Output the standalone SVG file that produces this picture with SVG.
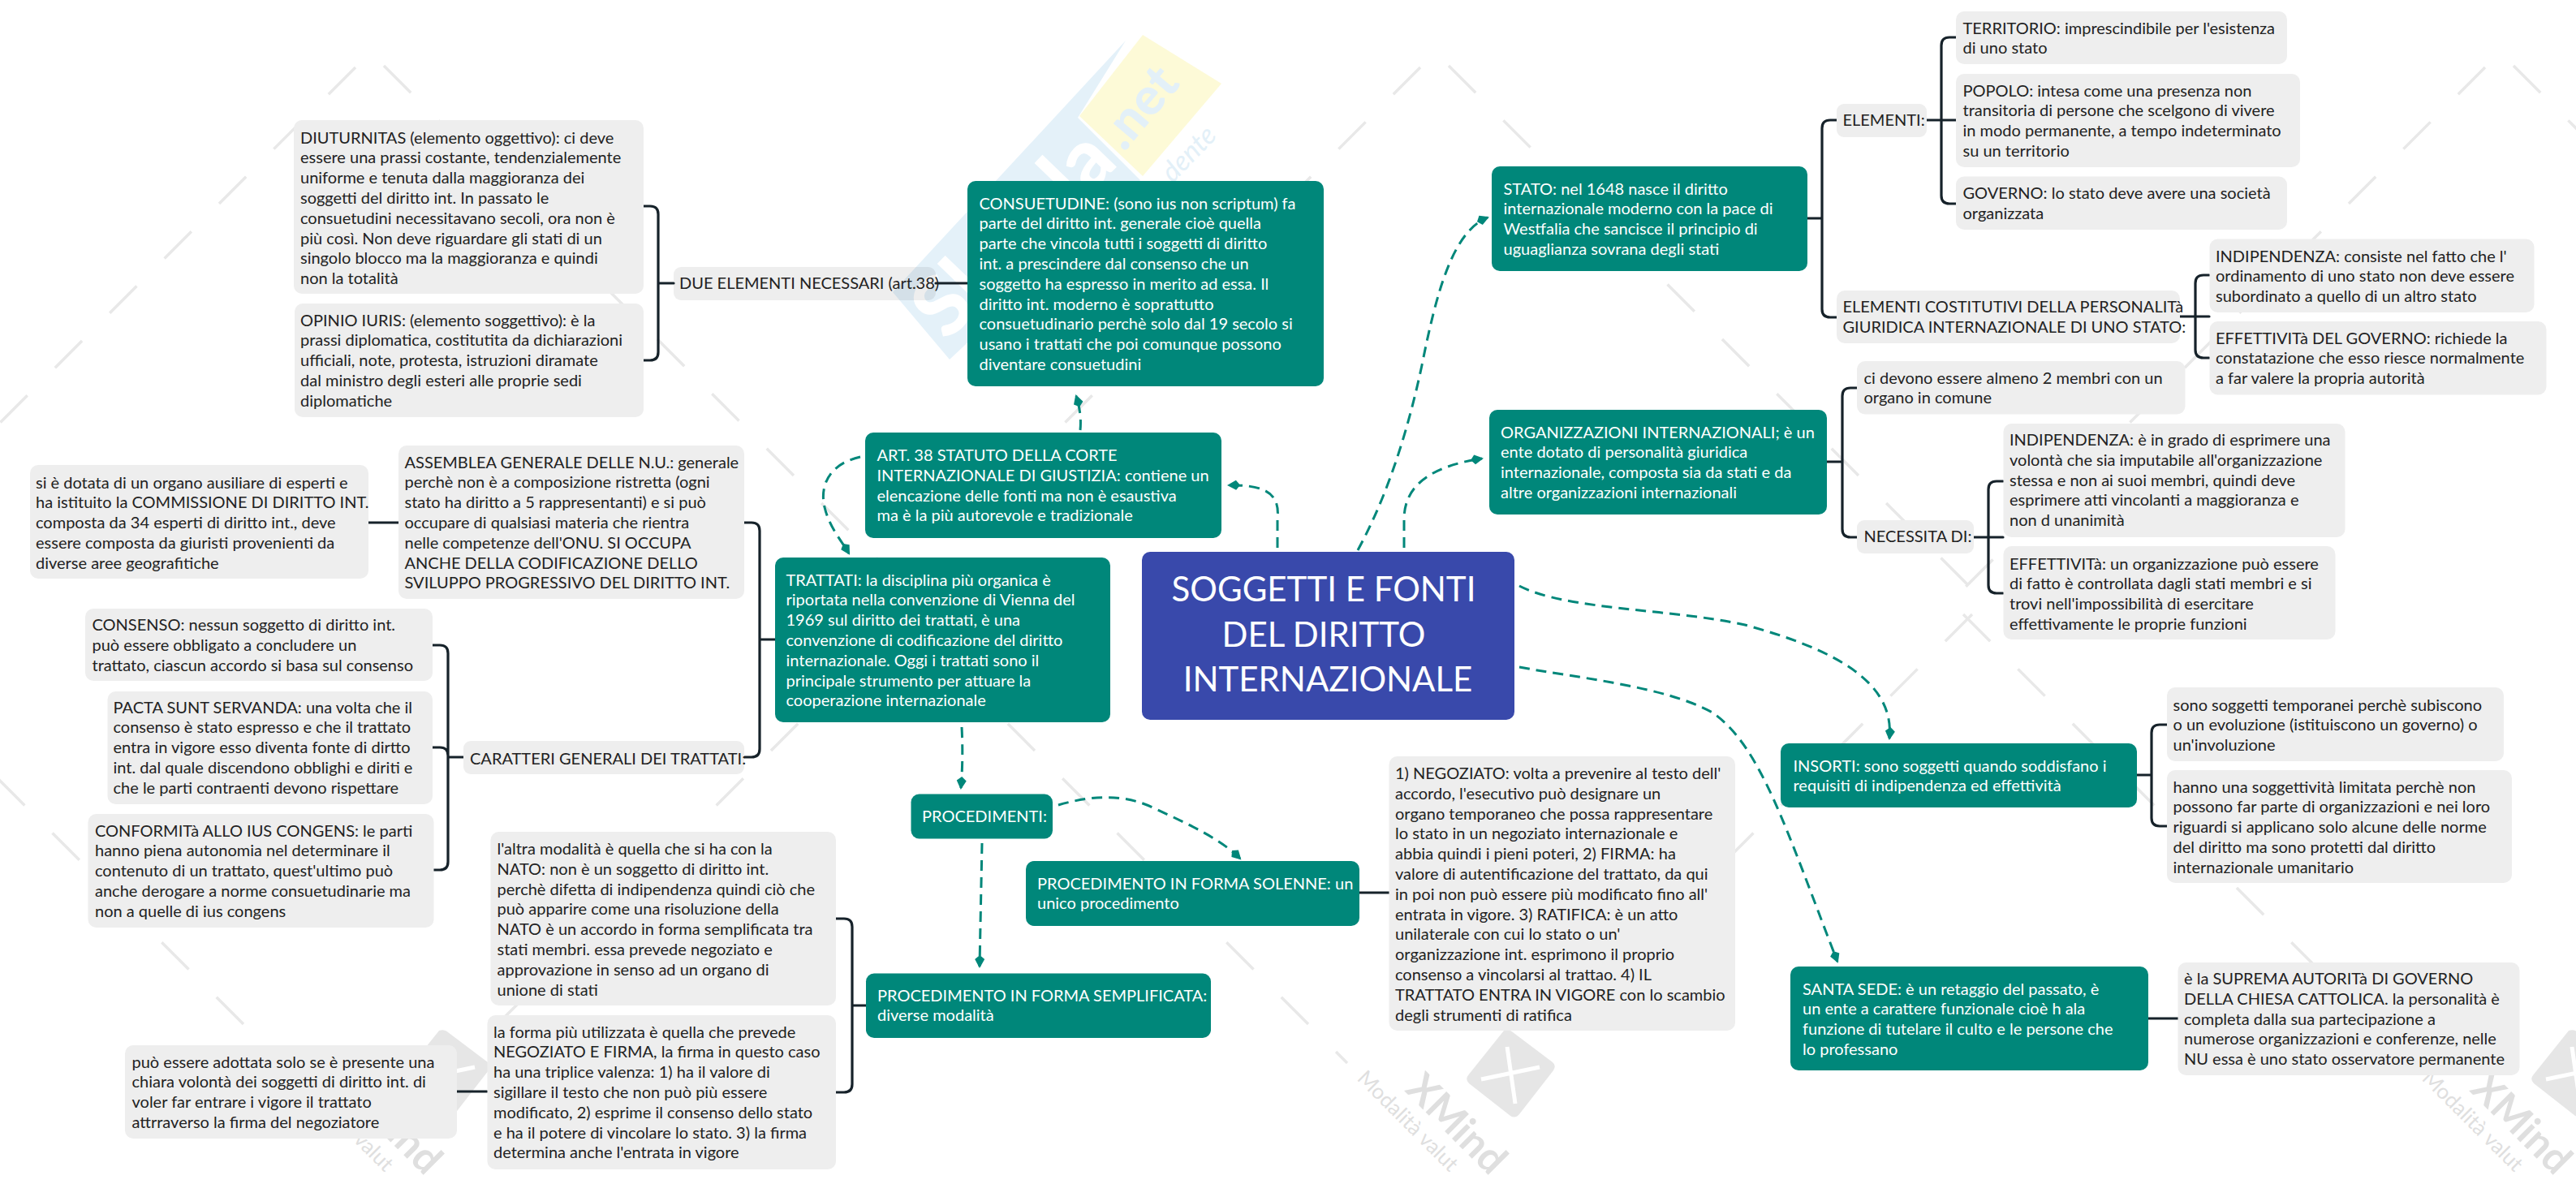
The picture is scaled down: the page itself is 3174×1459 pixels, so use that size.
<svg xmlns="http://www.w3.org/2000/svg" xmlns:xlink="http://www.w3.org/1999/xlink" width="3174" height="1459" viewBox="0 0 3174 1459">
<style>
text{font-family:"Lato","Liberation Sans",sans-serif;font-size:20px}
.t{fill:#222}
.w{fill:#fff}
.g{fill:#eee}
.k{fill:#00877a}
.c{fill:#3949ab}
.d{fill:none;stroke:#00877a;stroke-width:3;stroke-dasharray:13 8;marker-end:url(#ah)}
.s{fill:none;stroke:#16222a;stroke-width:3.2;stroke-linecap:round}
.wm{fill:none;stroke:#e8e8e8;stroke-width:3.5;stroke-dasharray:47 48.3}
.ti{font-size:42px;text-anchor:middle}
</style>
<defs>
<marker id="ah" markerUnits="userSpaceOnUse" markerWidth="20" markerHeight="16" refX="14" refY="8" orient="auto" viewBox="0 0 20 16"><path d="M0 8L5 2L16 8L5 14Z" fill="#00877a"/></marker>
<g id="tile">
<path class="wm" d="M473 81L1113 721"/>
<path class="wm" d="M438 83L-202 723"/>
<path class="wm" d="M-205 757L348 1310"/>
<path class="wm" d="M1118 757L560 1315"/>
<path d="M541 1270Q548 1268 552 1272L601 1309Q606 1313 602 1319L560 1373Q555 1379 549 1375L498 1335Q493 1330 497 1325Z" fill="#e6e6e6"/>
<path d="M545 1290L555 1360M513 1330L585 1315" stroke="#fff" stroke-width="5" fill="none"/>
<text x="418" y="1344" transform="rotate(45 418 1344)" style="font-size:50px;font-weight:700;fill:#dfdfdf">XMind</text>
<text x="359" y="1330" transform="rotate(45 359 1330)" style="font-size:26px;fill:#dfdfdf">Modalità valut</text>
</g>
</defs>
<rect width="3174" height="1459" fill="#fff"/>
<g id="watermark">
<use xlink:href="#tile" href="#tile"/>
<use xlink:href="#tile" href="#tile" x="1312"/>
<use xlink:href="#tile" href="#tile" x="2624"/>
</g>
<g id="skuola">
<path d="M1100 360L1387 50L1328 145L1405 222L1170 443Z" fill="#0a7cc4" fill-opacity=".11"/>
<path d="M1408 43L1505 103L1408 217L1330 143Z" fill="#fbf6b0" fill-opacity=".5"/>
<text x="1167" y="422" transform="rotate(-46 1167 422)" style="font-size:102px;font-weight:900;fill:#fff">Skuola</text>
<text x="1385" y="188" transform="rotate(-50 1385 188)" style="font-size:64px;font-weight:900;fill:#e3f0f8">.net</text>
<text x="1445" y="226" transform="rotate(-46 1445 226)" style="font-size:34px;font-style:italic;fill:#e3f0f8">dente</text>
</g>
<g id="n-due"><rect fill="#000" fill-opacity=".067" x="830" y="329" width="323" height="41" rx="9"/><text class="t" x="837" y="356">DUE ELEMENTI NECESSARI (art.38)</text></g>
<g id="connectors">
<path class="s" d="M793 254h8q10 0 10 10V434q0 10-10 10h-8M811 349H830"/>
<path class="s" d="M1153 349H1192"/>
<path class="s" d="M2227 269H2245M2263 148h-8q-10 0-10 10V381q0 10 10 10h8"/>
<path class="s" d="M2374 148H2410M2410 46h-8q-10 0-10 10V241q0 10 10 10h8"/>
<path class="s" d="M2686 390H2722M2722 339h-7q-10 0-10 10V431q0 10 10 10h7"/>
<path class="s" d="M2251 569H2270M2288 478h-8q-10 0-10 10V652q0 10 10 10h8"/>
<path class="s" d="M2432 662H2468M2468 593h-8q-10 0-10 10V721q0 10 10 10h8"/>
<path class="s" d="M2633 955H2651M2670 893h-9q-10 0-10 10V1008q0 10 10 10h9"/>
<path class="s" d="M2647 1255H2684"/>
<path class="s" d="M1675 1100H1712"/>
<path class="s" d="M1067 1239H1050M1030 1132h10q10 0 10 10V1336q0 10-10 10h-10"/>
<path class="s" d="M563 1345H600"/>
<path class="s" d="M454 644H491"/>
<path class="s" d="M955 788H936M917 644h9q10 0 10 10V923q0 10-10 10h-9"/>
<path class="s" d="M571 933H552M533 795h9q10 0 10 10V1062q0 10-10 10h-9M533 921h9q10 0 10 10"/>
<path class="d" d="M1331 530Q1333 510 1326 488"/>
<path class="d" d="M1673 678C1710 610 1735 530 1752 450C1770 360 1790 285 1833 268"/>
<path class="d" d="M1730 675V640C1730 600 1760 575 1826 565"/>
<path class="d" d="M1574 675V640C1577 612 1565 597 1514 598"/>
<path class="d" d="M1060 563C1020 572 1010 600 1016 625C1022 650 1036 665 1046 682"/>
<path class="d" d="M1185 896Q1187 935 1184 971"/>
<path class="d" d="M1304 992C1345 980 1385 978 1420 995C1470 1018 1505 1035 1528 1058"/>
<path class="d" d="M1210 1039L1207 1191"/>
<path class="d" d="M1872 722C1930 752 2060 750 2150 770C2260 800 2335 840 2328 910"/>
<path class="d" d="M1872 822C1940 835 2050 845 2110 878C2170 920 2200 1020 2264 1185"/>
</g>
<g id="n-diut"><rect class="g" x="362" y="148" width="431" height="214" rx="10"/><text class="t" y="176.5"><tspan x="370">DIUTURNITAS (elemento oggettivo): ci deve</tspan><tspan x="370" dy="24.8">essere una prassi costante, tendenzialemente</tspan><tspan x="370" dy="24.8">uniforme e tenuta dalla maggioranza dei</tspan><tspan x="370" dy="24.8">soggetti del diritto int. In passato le</tspan><tspan x="370" dy="24.8">consuetudini necessitavano secoli, ora non è</tspan><tspan x="370" dy="24.8">più così. Non deve riguardare gli stati di un</tspan><tspan x="370" dy="24.8">singolo blocco ma la maggioranza e quindi</tspan><tspan x="370" dy="24.8">non la totalità</tspan></text></g>
<g id="n-opinio"><rect class="g" x="363" y="374" width="430" height="140" rx="10"/><text class="t" y="401.5"><tspan x="370">OPINIO IURIS: (elemento soggettivo): è la</tspan><tspan x="370" dy="24.8">prassi diplomatica, costitutita da dichiarazioni</tspan><tspan x="370" dy="24.8">ufficiali, note, protesta, istruzioni diramate</tspan><tspan x="370" dy="24.8">dal ministro degli esteri alle proprie sedi</tspan><tspan x="370" dy="24.8">diplomatiche</tspan></text></g>
<g id="n-consuet"><rect class="k" x="1192" y="223" width="439" height="253" rx="10"/><text class="w" y="257.5"><tspan x="1206.5">CONSUETUDINE: (sono ius non scriptum) fa</tspan><tspan x="1206.5" dy="24.8">parte del diritto int. generale cioè quella</tspan><tspan x="1206.5" dy="24.8">parte che vincola tutti i soggetti di diritto</tspan><tspan x="1206.5" dy="24.8">int. a prescindere dal consenso che un</tspan><tspan x="1206.5" dy="24.8">soggetto ha espresso in merito ad essa. Il</tspan><tspan x="1206.5" dy="24.8">diritto int. moderno è soprattutto</tspan><tspan x="1206.5" dy="24.8">consuetudinario perchè solo dal 19 secolo si</tspan><tspan x="1206.5" dy="24.8">usano i trattati che poi comunque possono</tspan><tspan x="1206.5" dy="24.8">diventare consuetudini</tspan></text></g>
<g id="n-stato"><rect class="k" x="1838" y="205" width="389" height="129" rx="10"/><text class="w" y="239.5"><tspan x="1852.5">STATO: nel 1648 nasce il diritto</tspan><tspan x="1852.5" dy="24.8">internazionale moderno con la pace di</tspan><tspan x="1852.5" dy="24.8">Westfalia che sancisce il principio di</tspan><tspan x="1852.5" dy="24.8">uguaglianza sovrana degli stati</tspan></text></g>
<g id="n-terr"><rect class="g" x="2410" y="14" width="408" height="65" rx="10"/><text class="t" y="41.5"><tspan x="2418.5">TERRITORIO: imprescindibile per l'esistenza</tspan><tspan x="2418.5" dy="24.8">di uno stato</tspan></text></g>
<g id="n-pop"><rect class="g" x="2410" y="91" width="424" height="115" rx="10"/><text class="t" y="118.5"><tspan x="2418.5">POPOLO: intesa come una presenza non</tspan><tspan x="2418.5" dy="24.8">transitoria di persone che scelgono di vivere</tspan><tspan x="2418.5" dy="24.8">in modo permanente, a tempo indeterminato</tspan><tspan x="2418.5" dy="24.8">su un territorio</tspan></text></g>
<g id="n-gov"><rect class="g" x="2410" y="217.5" width="408" height="65.5" rx="10"/><text class="t" y="245"><tspan x="2418.5">GOVERNO: lo stato deve avere una società</tspan><tspan x="2418.5" dy="24.8">organizzata</tspan></text></g>
<g id="n-elem"><rect class="g" x="2263" y="128" width="111" height="41" rx="9"/><text class="t" x="2270.5" y="154.5">ELEMENTI:</text></g>
<g id="n-elemc"><rect class="g" x="2263" y="358" width="423" height="65" rx="10"/><text class="t" y="385"><tspan x="2270.5">ELEMENTI COSTITUTIVI DELLA PERSONALITà</tspan><tspan x="2270.5" dy="24.8">GIURIDICA INTERNAZIONALE DI UNO STATO:</tspan></text></g>
<g id="n-indip"><rect class="g" x="2722.5" y="294.5" width="400" height="90.5" rx="10"/><text class="t" y="322.5"><tspan x="2730">INDIPENDENZA: consiste nel fatto che l'</tspan><tspan x="2730" dy="24.8">ordinamento di uno stato non deve essere</tspan><tspan x="2730" dy="24.8">subordinato a quello di un altro stato</tspan></text></g>
<g id="n-effg"><rect class="g" x="2722.5" y="396" width="415" height="90.5" rx="10"/><text class="t" y="423.5"><tspan x="2730">EFFETTIVITà DEL GOVERNO: richiede la</tspan><tspan x="2730" dy="24.8">constatazione che esso riesce normalmente</tspan><tspan x="2730" dy="24.8">a far valere la propria autorità</tspan></text></g>
<g id="n-org"><rect class="k" x="1835" y="505" width="416" height="129" rx="10"/><text class="w" y="539.5"><tspan x="1849">ORGANIZZAZIONI INTERNAZIONALI; è un</tspan><tspan x="1849" dy="24.8">ente dotato di personalità giuridica</tspan><tspan x="1849" dy="24.8">internazionale, composta sia da stati e da</tspan><tspan x="1849" dy="24.8">altre organizzazioni internazionali</tspan></text></g>
<g id="n-ci"><rect class="g" x="2288" y="445" width="404.5" height="65.5" rx="10"/><text class="t" y="472.5"><tspan x="2296.5">ci devono essere almeno 2 membri con un</tspan><tspan x="2296.5" dy="24.8">organo in comune</tspan></text></g>
<g id="n-nec"><rect class="g" x="2288" y="641" width="144" height="41" rx="9"/><text class="t" x="2296.5" y="668">NECESSITA DI:</text></g>
<g id="n-ind2"><rect class="g" x="2468.5" y="522" width="421" height="140" rx="10"/><text class="t" y="549"><tspan x="2476">INDIPENDENZA: è in grado di esprimere una</tspan><tspan x="2476" dy="24.8">volontà che sia imputabile all'organizzazione</tspan><tspan x="2476" dy="24.8">stessa e non ai suoi membri, quindi deve</tspan><tspan x="2476" dy="24.8">esprimere atti vincolanti a maggioranza e</tspan><tspan x="2476" dy="24.8">non d unanimità</tspan></text></g>
<g id="n-eff2"><rect class="g" x="2468.5" y="673" width="409" height="115" rx="10"/><text class="t" y="701.5"><tspan x="2476">EFFETTIVITà: un organizzazione può essere</tspan><tspan x="2476" dy="24.8">di fatto è controllata dagli stati membri e si</tspan><tspan x="2476" dy="24.8">trovi nell'impossibilità di esercitare</tspan><tspan x="2476" dy="24.8">effettivamente le proprie funzioni</tspan></text></g>
<g id="n-ins"><rect class="k" x="2194" y="916" width="439" height="79" rx="10"/><text class="w" y="950.5"><tspan x="2209.5">INSORTI: sono soggetti quando soddisfano i</tspan><tspan x="2209.5" dy="24.8">requisiti di indipendenza ed effettività</tspan></text></g>
<g id="n-sono"><rect class="g" x="2670" y="847" width="415" height="91" rx="10"/><text class="t" y="875.5"><tspan x="2677.5">sono soggetti temporanei perchè subiscono</tspan><tspan x="2677.5" dy="24.8">o un evoluzione (istituiscono un governo) o</tspan><tspan x="2677.5" dy="24.8">un'involuzione</tspan></text></g>
<g id="n-hanno"><rect class="g" x="2670" y="949" width="425" height="139" rx="10"/><text class="t" y="976.5"><tspan x="2677.5">hanno una soggettività limitata perchè non</tspan><tspan x="2677.5" dy="24.8">possono far parte di organizzazioni e nei loro</tspan><tspan x="2677.5" dy="24.8">riguardi si applicano solo alcune delle norme</tspan><tspan x="2677.5" dy="24.8">del diritto ma sono protetti dal diritto</tspan><tspan x="2677.5" dy="24.8">internazionale umanitario</tspan></text></g>
<g id="n-santa"><rect class="k" x="2206" y="1191" width="441" height="128" rx="10"/><text class="w" y="1225.5"><tspan x="2221">SANTA SEDE: è un retaggio del passato, è</tspan><tspan x="2221" dy="24.8">un ente a carattere funzionale cioè h ala</tspan><tspan x="2221" dy="24.8">funzione di tutelare il culto e le persone che</tspan><tspan x="2221" dy="24.8">lo professano</tspan></text></g>
<g id="n-supr"><rect class="g" x="2683.5" y="1186" width="421" height="139" rx="10"/><text class="t" y="1213"><tspan x="2691">è la SUPREMA AUTORITà DI GOVERNO</tspan><tspan x="2691" dy="24.8">DELLA CHIESA CATTOLICA. la personalità è</tspan><tspan x="2691" dy="24.8">completa dalla sua partecipazione a</tspan><tspan x="2691" dy="24.8">numerose organizzazioni e conferenze, nelle</tspan><tspan x="2691" dy="24.8">NU essa è uno stato osservatore permanente</tspan></text></g>
<g id="n-center"><rect class="c" x="1407" y="680" width="459" height="207" rx="10"/><text class="w ti" x="1631" y="741">SOGGETTI E FONTI</text><text class="w ti" x="1631" y="797">DEL DIRITTO</text><text class="w ti" x="1636" y="852">INTERNAZIONALE</text></g>
<g id="n-art"><rect class="k" x="1066" y="533" width="439" height="130" rx="10"/><text class="w" y="568"><tspan x="1080.5">ART. 38 STATUTO DELLA CORTE</tspan><tspan x="1080.5" dy="24.8">INTERNAZIONALE DI GIUSTIZIA: contiene un</tspan><tspan x="1080.5" dy="24.8">elencazione delle fonti ma non è esaustiva</tspan><tspan x="1080.5" dy="24.8">ma è la più autorevole e tradizionale</tspan></text></g>
<g id="n-tratt"><rect class="k" x="955" y="687" width="413" height="203" rx="10"/><text class="w" y="721.5"><tspan x="968.5">TRATTATI: la disciplina più organica è</tspan><tspan x="968.5" dy="24.8">riportata nella convenzione di Vienna del</tspan><tspan x="968.5" dy="24.8">1969 sul diritto dei trattati, è una</tspan><tspan x="968.5" dy="24.8">convenzione di codificazione del diritto</tspan><tspan x="968.5" dy="24.8">internazionale. Oggi i trattati sono il</tspan><tspan x="968.5" dy="24.8">principale strumento per attuare la</tspan><tspan x="968.5" dy="24.8">cooperazione internazionale</tspan></text></g>
<g id="n-si"><rect class="g" x="37" y="573" width="417" height="140" rx="10"/><text class="t" y="601.5"><tspan x="44">si è dotata di un organo ausiliare di esperti e</tspan><tspan x="44" dy="24.8">ha istituito la COMMISSIONE DI DIRITTO INT.</tspan><tspan x="44" dy="24.8">composta da 34 esperti di diritto int., deve</tspan><tspan x="44" dy="24.8">essere composta da giuristi provenienti da</tspan><tspan x="44" dy="24.8">diverse aree geografitiche</tspan></text></g>
<g id="n-ass"><rect class="g" x="491" y="549" width="426" height="189" rx="10"/><text class="t" y="576.5"><tspan x="498.5">ASSEMBLEA GENERALE DELLE N.U.: generale</tspan><tspan x="498.5" dy="24.8">perchè non è a composizione ristretta (ogni</tspan><tspan x="498.5" dy="24.8">stato ha diritto a 5 rappresentanti) e si può</tspan><tspan x="498.5" dy="24.8">occupare di qualsiasi materia che rientra</tspan><tspan x="498.5" dy="24.8">nelle competenze dell'ONU. SI OCCUPA</tspan><tspan x="498.5" dy="24.8">ANCHE DELLA CODIFICAZIONE DELLO</tspan><tspan x="498.5" dy="24.8">SVILUPPO PROGRESSIVO DEL DIRITTO INT.</tspan></text></g>
<g id="n-cons"><rect class="g" x="105" y="750" width="428" height="89" rx="10"/><text class="t" y="777"><tspan x="113.5">CONSENSO: nessun soggetto di diritto int.</tspan><tspan x="113.5" dy="24.8">può essere obbligato a concludere un</tspan><tspan x="113.5" dy="24.8">trattato, ciascun accordo si basa sul consenso</tspan></text></g>
<g id="n-pacta"><rect class="g" x="132.5" y="852" width="400.5" height="139" rx="10"/><text class="t" y="878.5"><tspan x="139.5">PACTA SUNT SERVANDA: una volta che il</tspan><tspan x="139.5" dy="24.8">consenso è stato espresso e che il trattato</tspan><tspan x="139.5" dy="24.8">entra in vigore esso diventa fonte di dirtto</tspan><tspan x="139.5" dy="24.8">int. dal quale discendono obblighi e diriti e</tspan><tspan x="139.5" dy="24.8">che le parti contraenti devono rispettare</tspan></text></g>
<g id="n-conf"><rect class="g" x="108.5" y="1003" width="426" height="140" rx="10"/><text class="t" y="1030.5"><tspan x="117">CONFORMITà ALLO IUS CONGENS: le parti</tspan><tspan x="117" dy="24.8">hanno piena autonomia nel determinare il</tspan><tspan x="117" dy="24.8">contenuto di un trattato, quest'ultimo può</tspan><tspan x="117" dy="24.8">anche derogare a norme consuetudinarie ma</tspan><tspan x="117" dy="24.8">non a quelle di ius congens</tspan></text></g>
<g id="n-car"><rect class="g" x="571" y="913" width="346" height="41" rx="9"/><text class="t" x="579" y="941.5">CARATTERI GENERALI DEI TRATTATI:</text></g>
<g id="n-proc"><rect class="k" x="1122.5" y="978.5" width="174.5" height="55" rx="10"/><text class="w" x="1136" y="1012.5">PROCEDIMENTI:</text></g>
<g id="n-sol"><rect class="k" x="1264" y="1061" width="411" height="80" rx="10"/><text class="w" y="1095.5"><tspan x="1278">PROCEDIMENTO IN FORMA SOLENNE: un</tspan><tspan x="1278" dy="24.8">unico procedimento</tspan></text></g>
<g id="n-sem"><rect class="k" x="1067" y="1199.5" width="425" height="79.5" rx="10"/><text class="w" y="1233.5"><tspan x="1081">PROCEDIMENTO IN FORMA SEMPLIFICATA:</tspan><tspan x="1081" dy="24.8">diverse modalità</tspan></text></g>
<g id="n-neg"><rect class="g" x="1711.5" y="932" width="426.5" height="338" rx="10"/><text class="t" y="960"><tspan x="1719">1) NEGOZIATO: volta a prevenire al testo dell'</tspan><tspan x="1719" dy="24.8">accordo, l'esecutivo può designare un</tspan><tspan x="1719" dy="24.8">organo temporaneo che possa rappresentare</tspan><tspan x="1719" dy="24.8">lo stato in un negoziato internazionale e</tspan><tspan x="1719" dy="24.8">abbia quindi i pieni poteri, 2) FIRMA: ha</tspan><tspan x="1719" dy="24.8">valore di autentificazione del trattato, da qui</tspan><tspan x="1719" dy="24.8">in poi non può essere più modificato fino all'</tspan><tspan x="1719" dy="24.8">entrata in vigore. 3) RATIFICA: è un atto</tspan><tspan x="1719" dy="24.8">unilaterale con cui lo stato o un'</tspan><tspan x="1719" dy="24.8">organizzazione int. esprimono il proprio</tspan><tspan x="1719" dy="24.8">consenso a vincolarsi al trattao. 4) IL</tspan><tspan x="1719" dy="24.8">TRATTATO ENTRA IN VIGORE con lo scambio</tspan><tspan x="1719" dy="24.8">degli strumenti di ratifica</tspan></text></g>
<g id="n-altra"><rect class="g" x="604.5" y="1025" width="425.5" height="214" rx="10"/><text class="t" y="1053"><tspan x="612.5">l'altra modalità è quella che si ha con la</tspan><tspan x="612.5" dy="24.8">NATO: non è un soggetto di diritto int.</tspan><tspan x="612.5" dy="24.8">perchè difetta di indipendenza quindi ciò che</tspan><tspan x="612.5" dy="24.8">può apparire come una risoluzione della</tspan><tspan x="612.5" dy="24.8">NATO è un accordo in forma semplificata tra</tspan><tspan x="612.5" dy="24.8">stati membri. essa prevede negoziato e</tspan><tspan x="612.5" dy="24.8">approvazione in senso ad un organo di</tspan><tspan x="612.5" dy="24.8">unione di stati</tspan></text></g>
<g id="n-forma"><rect class="g" x="600.5" y="1251" width="429.5" height="190" rx="10"/><text class="t" y="1278.5"><tspan x="608">la forma più utilizzata è quella che prevede</tspan><tspan x="608" dy="24.8">NEGOZIATO E FIRMA, la firma in questo caso</tspan><tspan x="608" dy="24.8">ha una triplice valenza: 1) ha il valore di</tspan><tspan x="608" dy="24.8">sigillare il testo che non può più essere</tspan><tspan x="608" dy="24.8">modificato, 2) esprime il consenso dello stato</tspan><tspan x="608" dy="24.8">e ha il potere di vincolare lo stato. 3) la firma</tspan><tspan x="608" dy="24.8">determina anche l'entrata in vigore</tspan></text></g>
<g id="n-puo"><rect class="g" x="154" y="1288" width="409" height="115" rx="10"/><text class="t" y="1315.5"><tspan x="162.5">può essere adottata solo se è presente una</tspan><tspan x="162.5" dy="24.8">chiara volontà dei soggetti di diritto int. di</tspan><tspan x="162.5" dy="24.8">voler far entrare i vigore il trattato</tspan><tspan x="162.5" dy="24.8">attrraverso la firma del negoziatore</tspan></text></g>
</svg>
